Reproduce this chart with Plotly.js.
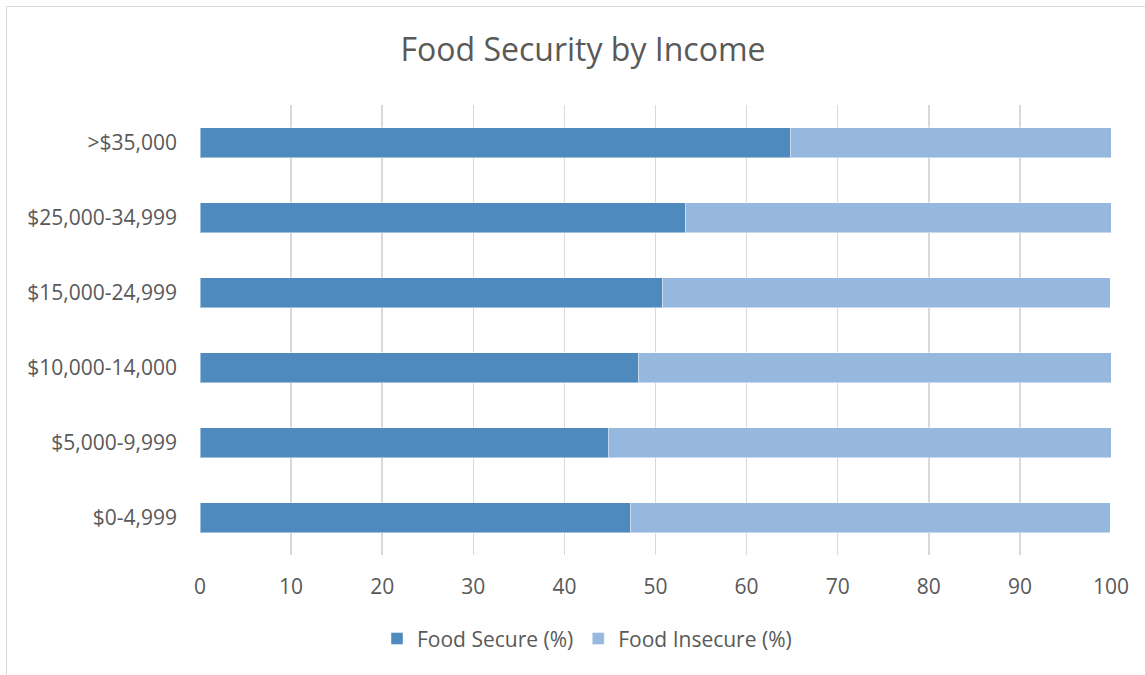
<!DOCTYPE html>
<html>
<head>
<meta charset="utf-8">
<script src="https://cdn.plot.ly/plotly-3.0.1.min.js"></script>
<style>
  html, body { margin: 0; padding: 0; background: #fff; }
  #wrap { position: relative; width: 1145px; height: 675px; }
  #chart { width: 1145px; height: 675px; }
  #frame { position: absolute; left: 6px; top: 6px; width: 1160px; height: 700px;
           border-left: 1.5px solid #d9d9d9; border-top: 1.5px solid #d9d9d9; pointer-events: none; }
</style>
</head>
<body>
<div id="wrap">
  <div id="chart"></div>
  <div id="frame"></div>
</div>
<script>
const categories = ["$0-4,999", "$5,000-9,999", "$10,000-14,000", "$15,000-24,999", "$25,000-34,999", ">$35,000"];
const foodSecure = [47.3, 44.8, 48.1, 50.8, 53.3, 64.8];
const foodInsecure = [52.6, 55.2, 51.9, 49.1, 46.8, 35.2];
const xTicks = [0, 10, 20, 30, 40, 50, 60, 70, 80, 90, 100];

const fontFam = '"Open Sans", "Noto Sans", sans-serif';
const textCol = '#595959';

const traces = [
  {
    type: 'bar', orientation: 'h', name: 'Food Secure (%)',
    y: categories, x: foodSecure,
    marker: { color: '#4f8abe', line: { color: 'rgba(255,255,255,0.45)', width: 1 } },
    hoverinfo: 'x+name'
  },
  {
    type: 'bar', orientation: 'h', name: 'Food Insecure (%)',
    y: categories, x: foodInsecure,
    marker: { color: '#96b8df', line: { color: 'rgba(255,255,255,0.45)', width: 1 } },
    hoverinfo: 'x+name'
  }
];

const layout = {
  width: 1145, height: 675,
  paper_bgcolor: '#ffffff', plot_bgcolor: '#ffffff',
  barmode: 'stack', bargap: 0.6,
  margin: { l: 200, r: 34, t: 104.5, b: 120, pad: 0 },
  font: { family: fontFam, color: textCol, size: 21 },
  title: {
    text: 'Food Security by Income',
    font: { family: fontFam, size: 32, color: textCol },
    xref: 'container', x: 583 / 1145, xanchor: 'center',
    yref: 'container', y: 1 - 50 / 675, yanchor: 'middle'
  },
  xaxis: {
    range: [0, 100], tickvals: xTicks, ticktext: xTicks.map(String),
    showgrid: true, gridcolor: '#d9d9d9', gridwidth: 1.5,
    zeroline: false, showline: false, ticks: '',
    ticklabelstandoff: 17,
    tickfont: { family: fontFam, size: 21, color: textCol },
    fixedrange: true
  },
  yaxis: {
    type: 'category', categoryorder: 'array', categoryarray: categories,
    showgrid: false, zeroline: false, showline: false, ticks: '',
    ticklabelstandoff: 22,
    tickfont: { family: fontFam, size: 21, color: textCol },
    fixedrange: true
  },
  showlegend: true,
  legend: {
    orientation: 'h', xref: 'paper', x: (587 - 200) / 911, xanchor: 'center',
    yref: 'paper', y: (555 - 639) / 450.5, yanchor: 'middle',
    font: { family: fontFam, size: 21, color: textCol },
    itemwidth: 30, traceorder: 'normal'
  }
};

Plotly.newPlot('chart', traces, layout, { displayModeBar: false, staticPlot: true });
</script>
</body>
</html>
